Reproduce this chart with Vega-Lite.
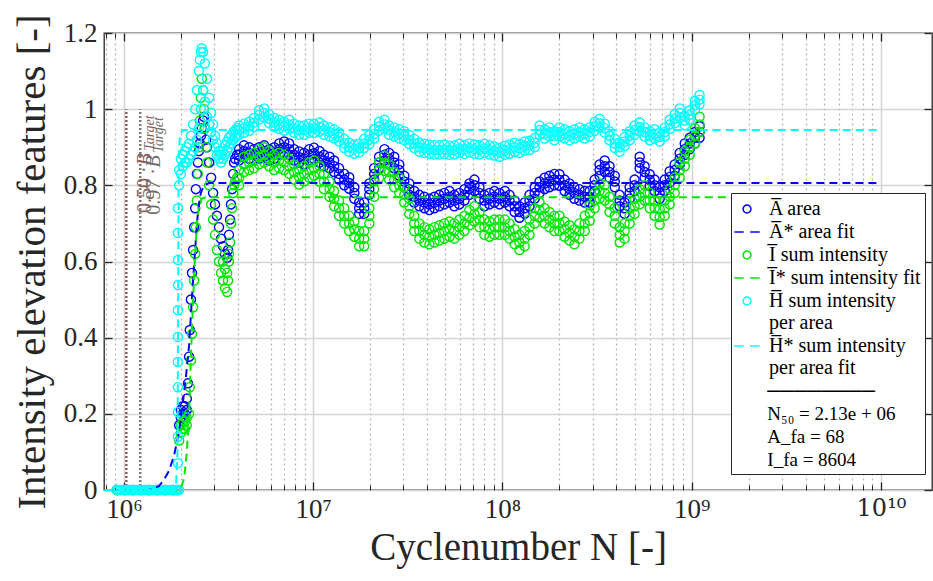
{
  "$schema": "https://vega.github.io/schema/vega-lite/v6.json",
  "width": 828,
  "height": 457,
  "autosize": "none",
  "padding": {"left": 104, "top": 33, "right": 1, "bottom": 91},
  "background": "white",
  "config": {
    "view": {"stroke": "#262626", "strokeWidth": 1.3},
    "font": "Liberation Serif"
  },
  "resolve": {"axis": {"x": "independent", "y": "independent"}},
  "datasets": {
    "t50": [{"N": 1.03e6}],
    "t97": [{"N": 1.22e6}],
    "fits": [
      {"s": "A*", "N": 7.9e5, "v": 0}, {"s": "A*", "N": 1.36e6, "v": 0}, {"s": "A*", "N": 1.53e6, "v": 0.01}, {"s": "A*", "N": 1.62e6, "v": 0.025}, {"s": "A*", "N": 1.73e6, "v": 0.05}, {"s": "A*", "N": 1.84e6, "v": 0.09}, {"s": "A*", "N": 1.95e6, "v": 0.15}, {"s": "A*", "N": 2.05e6, "v": 0.23}, {"s": "A*", "N": 2.13e6, "v": 0.3}, {"s": "A*", "N": 2.21e6, "v": 0.38}, {"s": "A*", "N": 2.26e6, "v": 0.46}, {"s": "A*", "N": 2.32e6, "v": 0.55}, {"s": "A*", "N": 2.38e6, "v": 0.63}, {"s": "A*", "N": 2.43e6, "v": 0.7}, {"s": "A*", "N": 2.49e6, "v": 0.75}, {"s": "A*", "N": 2.55e6, "v": 0.78}, {"s": "A*", "N": 2.65e6, "v": 0.8}, {"s": "A*", "N": 2.82e6, "v": 0.806}, {"s": "A*", "N": 1e10, "v": 0.806},
      {"s": "I*", "N": 7.9e5, "v": 0}, {"s": "I*", "N": 1.91e6, "v": 0}, {"s": "I*", "N": 2.0e6, "v": 0.005}, {"s": "I*", "N": 2.08e6, "v": 0.03}, {"s": "I*", "N": 2.15e6, "v": 0.1}, {"s": "I*", "N": 2.21e6, "v": 0.2}, {"s": "I*", "N": 2.26e6, "v": 0.35}, {"s": "I*", "N": 2.32e6, "v": 0.5}, {"s": "I*", "N": 2.38e6, "v": 0.62}, {"s": "I*", "N": 2.43e6, "v": 0.7}, {"s": "I*", "N": 2.49e6, "v": 0.74}, {"s": "I*", "N": 2.58e6, "v": 0.765}, {"s": "I*", "N": 2.72e6, "v": 0.769}, {"s": "I*", "N": 1e10, "v": 0.769},
      {"s": "H*", "N": 7.9e5, "v": 0}, {"s": "H*", "N": 1.88e6, "v": 0}, {"s": "H*", "N": 1.92e6, "v": 0.1}, {"s": "H*", "N": 1.935e6, "v": 0.5}, {"s": "H*", "N": 1.95e6, "v": 0.88}, {"s": "H*", "N": 1.98e6, "v": 0.935}, {"s": "H*", "N": 2.05e6, "v": 0.945}, {"s": "H*", "N": 1e10, "v": 0.945}
    ],
    "pts": [
      {"s": "A", "N": 9.18e5, "v": 0}, {"s": "A", "N": 1.012e6, "v": 0}, {"s": "A", "N": 1.116e6, "v": 0}, {"s": "A", "N": 1.231e6, "v": 0}, {"s": "A", "N": 1.357e6, "v": 0}, {"s": "A", "N": 1.496e6, "v": 0}, {"s": "A", "N": 1.65e6, "v": 0}, {"s": "A", "N": 1.82e6, "v": 0}, {"s": "A", "N": 1.911e6, "v": 0},
      {"s": "A", "N": 1.958e6, "v": 0.17}, {"s": "A", "N": 2.0e6, "v": 0.19}, {"s": "A", "N": 2.0e6, "v": 0.21}, {"s": "A", "N": 2.05e6, "v": 0.2}, {"s": "A", "N": 2.05e6, "v": 0.22}, {"s": "A", "N": 2.1e6, "v": 0.2}, {"s": "A", "N": 2.1e6, "v": 0.22}, {"s": "A", "N": 2.15e6, "v": 0.21}, {"s": "A", "N": 2.15e6, "v": 0.24},
      {"s": "A", "N": 2.18e6, "v": 0.28}, {"s": "A", "N": 2.21e6, "v": 0.35}, {"s": "A", "N": 2.23e6, "v": 0.42}, {"s": "A", "N": 2.26e6, "v": 0.5}, {"s": "A", "N": 2.29e6, "v": 0.57}, {"s": "A", "N": 2.32e6, "v": 0.63}, {"s": "A", "N": 2.35e6, "v": 0.69}, {"s": "A", "N": 2.38e6, "v": 0.74}, {"s": "A", "N": 2.4e6, "v": 0.79}, {"s": "A", "N": 2.43e6, "v": 0.83}, {"s": "A", "N": 2.46e6, "v": 0.86}, {"s": "A", "N": 2.49e6, "v": 0.89}, {"s": "A", "N": 2.52e6, "v": 0.91}, {"s": "A", "N": 2.55e6, "v": 0.93}, {"s": "A", "N": 2.58e6, "v": 0.95}, {"s": "A", "N": 2.62e6, "v": 0.97}, {"s": "A", "N": 2.65e6, "v": 0.98}, {"s": "A", "N": 2.68e6, "v": 0.95}, {"s": "A", "N": 2.72e6, "v": 0.92}, {"s": "A", "N": 2.75e6, "v": 0.9}, {"s": "A", "N": 2.82e6, "v": 0.86}, {"s": "A", "N": 2.89e6, "v": 0.82}, {"s": "A", "N": 2.96e6, "v": 0.78}, {"s": "A", "N": 3.03e6, "v": 0.75}, {"s": "A", "N": 3.1e6, "v": 0.72}, {"s": "A", "N": 3.18e6, "v": 0.69}, {"s": "A", "N": 3.26e6, "v": 0.66}, {"s": "A", "N": 3.34e6, "v": 0.64}, {"s": "A", "N": 3.42e6, "v": 0.62}, {"s": "A", "N": 3.51e6, "v": 0.61}, {"s": "A", "N": 3.55e6, "v": 0.63}, {"s": "A", "N": 3.59e6, "v": 0.67}, {"s": "A", "N": 3.64e6, "v": 0.71}, {"s": "A", "N": 3.68e6, "v": 0.75}, {"s": "A", "N": 3.73e6, "v": 0.79}, {"s": "A", "N": 3.78e6, "v": 0.83}, {"s": "A", "N": 3.82e6, "v": 0.86}, {"s": "A", "N": 3.87e6, "v": 0.87}, {"s": "A", "N": 3.96e6, "v": 0.88},
      {"s": "A", "N": 4.06e6, "v": 0.895}, {"s": "A", "N": 4.06e6, "v": 0.865}, {"s": "A", "N": 4.31e6, "v": 0.905}, {"s": "A", "N": 4.31e6, "v": 0.875}, {"s": "A", "N": 4.59e6, "v": 0.9}, {"s": "A", "N": 4.59e6, "v": 0.87}, {"s": "A", "N": 4.87e6, "v": 0.895}, {"s": "A", "N": 4.87e6, "v": 0.865}, {"s": "A", "N": 5.18e6, "v": 0.9}, {"s": "A", "N": 5.18e6, "v": 0.87}, {"s": "A", "N": 5.51e6, "v": 0.905}, {"s": "A", "N": 5.51e6, "v": 0.875}, {"s": "A", "N": 5.85e6, "v": 0.895}, {"s": "A", "N": 5.85e6, "v": 0.865}, {"s": "A", "N": 6.22e6, "v": 0.9}, {"s": "A", "N": 6.22e6, "v": 0.87}, {"s": "A", "N": 6.61e6, "v": 0.91}, {"s": "A", "N": 6.61e6, "v": 0.88}, {"s": "A", "N": 7.03e6, "v": 0.915}, {"s": "A", "N": 7.03e6, "v": 0.885}, {"s": "A", "N": 7.47e6, "v": 0.91}, {"s": "A", "N": 7.47e6, "v": 0.88}, {"s": "A", "N": 7.93e6, "v": 0.895}, {"s": "A", "N": 7.93e6, "v": 0.865}, {"s": "A", "N": 8.43e6, "v": 0.889}, {"s": "A", "N": 8.43e6, "v": 0.859}, {"s": "A", "N": 8.96e6, "v": 0.885}, {"s": "A", "N": 8.96e6, "v": 0.855}, {"s": "A", "N": 9.53e6, "v": 0.895}, {"s": "A", "N": 9.53e6, "v": 0.865}, {"s": "A", "N": 1.01e7, "v": 0.899}, {"s": "A", "N": 1.01e7, "v": 0.869}, {"s": "A", "N": 1.08e7, "v": 0.89}, {"s": "A", "N": 1.08e7, "v": 0.86}, {"s": "A", "N": 1.14e7, "v": 0.88}, {"s": "A", "N": 1.14e7, "v": 0.85}, {"s": "A", "N": 1.22e7, "v": 0.875}, {"s": "A", "N": 1.22e7, "v": 0.845}, {"s": "A", "N": 1.29e7, "v": 0.865}, {"s": "A", "N": 1.29e7, "v": 0.835}, {"s": "A", "N": 1.37e7, "v": 0.845}, {"s": "A", "N": 1.37e7, "v": 0.815}, {"s": "A", "N": 1.46e7, "v": 0.83}, {"s": "A", "N": 1.46e7, "v": 0.8}, {"s": "A", "N": 1.55e7, "v": 0.821}, {"s": "A", "N": 1.55e7, "v": 0.791}, {"s": "A", "N": 1.65e7, "v": 0.795}, {"s": "A", "N": 1.65e7, "v": 0.765}, {"s": "A", "N": 1.75e7, "v": 0.755}, {"s": "A", "N": 1.75e7, "v": 0.725}, {"s": "A", "N": 1.86e7, "v": 0.755}, {"s": "A", "N": 1.86e7, "v": 0.725}, {"s": "A", "N": 1.98e7, "v": 0.805}, {"s": "A", "N": 1.98e7, "v": 0.775}, {"s": "A", "N": 2.1e7, "v": 0.845}, {"s": "A", "N": 2.1e7, "v": 0.815}, {"s": "A", "N": 2.23e7, "v": 0.875}, {"s": "A", "N": 2.23e7, "v": 0.845}, {"s": "A", "N": 2.38e7, "v": 0.895}, {"s": "A", "N": 2.38e7, "v": 0.865}, {"s": "A", "N": 2.52e7, "v": 0.885}, {"s": "A", "N": 2.52e7, "v": 0.855}, {"s": "A", "N": 2.68e7, "v": 0.875}, {"s": "A", "N": 2.68e7, "v": 0.845}, {"s": "A", "N": 2.85e7, "v": 0.855}, {"s": "A", "N": 2.85e7, "v": 0.825}, {"s": "A", "N": 3.03e7, "v": 0.825}, {"s": "A", "N": 3.03e7, "v": 0.795}, {"s": "A", "N": 3.22e7, "v": 0.805}, {"s": "A", "N": 3.22e7, "v": 0.775}, {"s": "A", "N": 3.42e7, "v": 0.785}, {"s": "A", "N": 3.42e7, "v": 0.755}, {"s": "A", "N": 3.64e7, "v": 0.775}, {"s": "A", "N": 3.64e7, "v": 0.745}, {"s": "A", "N": 3.87e7, "v": 0.77}, {"s": "A", "N": 3.87e7, "v": 0.74}, {"s": "A", "N": 4.11e7, "v": 0.765}, {"s": "A", "N": 4.11e7, "v": 0.735}, {"s": "A", "N": 4.37e7, "v": 0.77}, {"s": "A", "N": 4.37e7, "v": 0.74}, {"s": "A", "N": 4.64e7, "v": 0.775}, {"s": "A", "N": 4.64e7, "v": 0.745}, {"s": "A", "N": 4.93e7, "v": 0.78}, {"s": "A", "N": 4.93e7, "v": 0.75}, {"s": "A", "N": 5.25e7, "v": 0.785}, {"s": "A", "N": 5.25e7, "v": 0.755}, {"s": "A", "N": 5.57e7, "v": 0.775}, {"s": "A", "N": 5.57e7, "v": 0.745}, {"s": "A", "N": 5.92e7, "v": 0.78}, {"s": "A", "N": 5.92e7, "v": 0.75}, {"s": "A", "N": 6.3e7, "v": 0.79}, {"s": "A", "N": 6.3e7, "v": 0.76}, {"s": "A", "N": 6.69e7, "v": 0.805}, {"s": "A", "N": 6.69e7, "v": 0.775}, {"s": "A", "N": 7.11e7, "v": 0.815}, {"s": "A", "N": 7.11e7, "v": 0.785}, {"s": "A", "N": 7.56e7, "v": 0.795}, {"s": "A", "N": 7.56e7, "v": 0.765}, {"s": "A", "N": 8.03e7, "v": 0.775}, {"s": "A", "N": 8.03e7, "v": 0.745}, {"s": "A", "N": 8.54e7, "v": 0.78}, {"s": "A", "N": 8.54e7, "v": 0.75}, {"s": "A", "N": 9.07e7, "v": 0.785}, {"s": "A", "N": 9.07e7, "v": 0.755}, {"s": "A", "N": 9.64e7, "v": 0.78}, {"s": "A", "N": 9.64e7, "v": 0.75}, {"s": "A", "N": 1.03e8, "v": 0.785}, {"s": "A", "N": 1.03e8, "v": 0.755}, {"s": "A", "N": 1.09e8, "v": 0.775}, {"s": "A", "N": 1.09e8, "v": 0.745}, {"s": "A", "N": 1.16e8, "v": 0.76}, {"s": "A", "N": 1.16e8, "v": 0.73}, {"s": "A", "N": 1.23e8, "v": 0.745}, {"s": "A", "N": 1.23e8, "v": 0.715}, {"s": "A", "N": 1.31e8, "v": 0.755}, {"s": "A", "N": 1.31e8, "v": 0.725}, {"s": "A", "N": 1.39e8, "v": 0.775}, {"s": "A", "N": 1.39e8, "v": 0.745}, {"s": "A", "N": 1.48e8, "v": 0.795}, {"s": "A", "N": 1.48e8, "v": 0.765}, {"s": "A", "N": 1.57e8, "v": 0.81}, {"s": "A", "N": 1.57e8, "v": 0.78}, {"s": "A", "N": 1.67e8, "v": 0.82}, {"s": "A", "N": 1.67e8, "v": 0.79}, {"s": "A", "N": 1.77e8, "v": 0.825}, {"s": "A", "N": 1.77e8, "v": 0.795}, {"s": "A", "N": 1.88e8, "v": 0.83}, {"s": "A", "N": 1.88e8, "v": 0.8}, {"s": "A", "N": 2.0e8, "v": 0.829}, {"s": "A", "N": 2.0e8, "v": 0.799}, {"s": "A", "N": 2.13e8, "v": 0.815}, {"s": "A", "N": 2.13e8, "v": 0.785}, {"s": "A", "N": 2.26e8, "v": 0.805}, {"s": "A", "N": 2.26e8, "v": 0.775}, {"s": "A", "N": 2.4e8, "v": 0.795}, {"s": "A", "N": 2.4e8, "v": 0.765}, {"s": "A", "N": 2.55e8, "v": 0.79}, {"s": "A", "N": 2.55e8, "v": 0.76}, {"s": "A", "N": 2.72e8, "v": 0.785}, {"s": "A", "N": 2.72e8, "v": 0.755}, {"s": "A", "N": 2.89e8, "v": 0.785}, {"s": "A", "N": 2.89e8, "v": 0.755}, {"s": "A", "N": 3.07e8, "v": 0.815}, {"s": "A", "N": 3.07e8, "v": 0.785}, {"s": "A", "N": 3.26e8, "v": 0.855}, {"s": "A", "N": 3.26e8, "v": 0.825}, {"s": "A", "N": 3.47e8, "v": 0.865}, {"s": "A", "N": 3.47e8, "v": 0.835}, {"s": "A", "N": 3.68e8, "v": 0.85}, {"s": "A", "N": 3.68e8, "v": 0.82}, {"s": "A", "N": 3.92e8, "v": 0.825}, {"s": "A", "N": 3.92e8, "v": 0.795}, {"s": "A", "N": 4.16e8, "v": 0.775}, {"s": "A", "N": 4.16e8, "v": 0.745}, {"s": "A", "N": 4.42e8, "v": 0.755}, {"s": "A", "N": 4.42e8, "v": 0.725}, {"s": "A", "N": 4.7e8, "v": 0.795}, {"s": "A", "N": 4.7e8, "v": 0.765}, {"s": "A", "N": 4.99e8, "v": 0.815}, {"s": "A", "N": 4.99e8, "v": 0.785}, {"s": "A", "N": 5.31e8, "v": 0.875}, {"s": "A", "N": 5.31e8, "v": 0.845}, {"s": "A", "N": 5.64e8, "v": 0.85}, {"s": "A", "N": 5.64e8, "v": 0.82}, {"s": "A", "N": 6.0e8, "v": 0.829}, {"s": "A", "N": 6.0e8, "v": 0.799}, {"s": "A", "N": 6.37e8, "v": 0.815}, {"s": "A", "N": 6.37e8, "v": 0.785}, {"s": "A", "N": 6.77e8, "v": 0.795}, {"s": "A", "N": 6.77e8, "v": 0.765}, {"s": "A", "N": 7.2e8, "v": 0.815}, {"s": "A", "N": 7.2e8, "v": 0.785}, {"s": "A", "N": 7.65e8, "v": 0.837}, {"s": "A", "N": 7.65e8, "v": 0.807}, {"s": "A", "N": 8.13e8, "v": 0.855}, {"s": "A", "N": 8.13e8, "v": 0.825}, {"s": "A", "N": 8.64e8, "v": 0.885}, {"s": "A", "N": 8.64e8, "v": 0.855}, {"s": "A", "N": 9.19e8, "v": 0.91}, {"s": "A", "N": 9.19e8, "v": 0.88}, {"s": "A", "N": 9.76e8, "v": 0.925}, {"s": "A", "N": 9.76e8, "v": 0.895}, {"s": "A", "N": 1.04e9, "v": 0.94}, {"s": "A", "N": 1.04e9, "v": 0.91}, {"s": "A", "N": 1.1e9, "v": 0.955}, {"s": "A", "N": 1.1e9, "v": 0.925},
      {"s": "A", "N": 4.06e6, "v": 0.88}, {"s": "A", "N": 4.31e6, "v": 0.89}, {"s": "A", "N": 4.59e6, "v": 0.885}, {"s": "A", "N": 4.87e6, "v": 0.88}, {"s": "A", "N": 5.18e6, "v": 0.885}, {"s": "A", "N": 5.51e6, "v": 0.89}, {"s": "A", "N": 5.85e6, "v": 0.88}, {"s": "A", "N": 6.22e6, "v": 0.885}, {"s": "A", "N": 6.61e6, "v": 0.895}, {"s": "A", "N": 7.03e6, "v": 0.9}, {"s": "A", "N": 7.47e6, "v": 0.895}, {"s": "A", "N": 7.93e6, "v": 0.88}, {"s": "A", "N": 8.43e6, "v": 0.874}, {"s": "A", "N": 8.96e6, "v": 0.87}, {"s": "A", "N": 9.53e6, "v": 0.88}, {"s": "A", "N": 1.01e7, "v": 0.884}, {"s": "A", "N": 1.08e7, "v": 0.875}, {"s": "A", "N": 1.14e7, "v": 0.865}, {"s": "A", "N": 1.22e7, "v": 0.86}, {"s": "A", "N": 1.29e7, "v": 0.85}, {"s": "A", "N": 1.37e7, "v": 0.83}, {"s": "A", "N": 1.46e7, "v": 0.815}, {"s": "A", "N": 1.55e7, "v": 0.806}, {"s": "A", "N": 1.65e7, "v": 0.78}, {"s": "A", "N": 1.75e7, "v": 0.74}, {"s": "A", "N": 1.86e7, "v": 0.74}, {"s": "A", "N": 1.98e7, "v": 0.79}, {"s": "A", "N": 2.1e7, "v": 0.83}, {"s": "A", "N": 2.23e7, "v": 0.86}, {"s": "A", "N": 2.38e7, "v": 0.88}, {"s": "A", "N": 2.52e7, "v": 0.87}, {"s": "A", "N": 2.68e7, "v": 0.86}, {"s": "A", "N": 2.85e7, "v": 0.84}, {"s": "A", "N": 3.03e7, "v": 0.81}, {"s": "A", "N": 3.22e7, "v": 0.79}, {"s": "A", "N": 3.42e7, "v": 0.77}, {"s": "A", "N": 3.64e7, "v": 0.76}, {"s": "A", "N": 3.87e7, "v": 0.755}, {"s": "A", "N": 4.11e7, "v": 0.75}, {"s": "A", "N": 4.37e7, "v": 0.755}, {"s": "A", "N": 4.64e7, "v": 0.76}, {"s": "A", "N": 4.93e7, "v": 0.765}, {"s": "A", "N": 5.25e7, "v": 0.77}, {"s": "A", "N": 5.57e7, "v": 0.76}, {"s": "A", "N": 5.92e7, "v": 0.765}, {"s": "A", "N": 6.3e7, "v": 0.775}, {"s": "A", "N": 6.69e7, "v": 0.79}, {"s": "A", "N": 7.11e7, "v": 0.8}, {"s": "A", "N": 7.56e7, "v": 0.78}, {"s": "A", "N": 8.03e7, "v": 0.76}, {"s": "A", "N": 8.54e7, "v": 0.765}, {"s": "A", "N": 9.07e7, "v": 0.77}, {"s": "A", "N": 9.64e7, "v": 0.765}, {"s": "A", "N": 1.03e8, "v": 0.77}, {"s": "A", "N": 1.09e8, "v": 0.76}, {"s": "A", "N": 1.16e8, "v": 0.745}, {"s": "A", "N": 1.23e8, "v": 0.73}, {"s": "A", "N": 1.31e8, "v": 0.74}, {"s": "A", "N": 1.39e8, "v": 0.76}, {"s": "A", "N": 1.48e8, "v": 0.78}, {"s": "A", "N": 1.57e8, "v": 0.795}, {"s": "A", "N": 1.67e8, "v": 0.805}, {"s": "A", "N": 1.77e8, "v": 0.81}, {"s": "A", "N": 1.88e8, "v": 0.815}, {"s": "A", "N": 2.0e8, "v": 0.814}, {"s": "A", "N": 2.13e8, "v": 0.8}, {"s": "A", "N": 2.26e8, "v": 0.79}, {"s": "A", "N": 2.4e8, "v": 0.78}, {"s": "A", "N": 2.55e8, "v": 0.775}, {"s": "A", "N": 2.72e8, "v": 0.77}, {"s": "A", "N": 2.89e8, "v": 0.77}, {"s": "A", "N": 3.07e8, "v": 0.8}, {"s": "A", "N": 3.26e8, "v": 0.84}, {"s": "A", "N": 3.47e8, "v": 0.85}, {"s": "A", "N": 3.68e8, "v": 0.835}, {"s": "A", "N": 3.92e8, "v": 0.81}, {"s": "A", "N": 4.16e8, "v": 0.76}, {"s": "A", "N": 4.42e8, "v": 0.74}, {"s": "A", "N": 4.7e8, "v": 0.78}, {"s": "A", "N": 4.99e8, "v": 0.8}, {"s": "A", "N": 5.31e8, "v": 0.86}, {"s": "A", "N": 5.64e8, "v": 0.835}, {"s": "A", "N": 6.0e8, "v": 0.814}, {"s": "A", "N": 6.37e8, "v": 0.8}, {"s": "A", "N": 6.77e8, "v": 0.78}, {"s": "A", "N": 7.2e8, "v": 0.8}, {"s": "A", "N": 7.65e8, "v": 0.822}, {"s": "A", "N": 8.13e8, "v": 0.84}, {"s": "A", "N": 8.64e8, "v": 0.87}, {"s": "A", "N": 9.19e8, "v": 0.895}, {"s": "A", "N": 9.76e8, "v": 0.91}, {"s": "A", "N": 1.04e9, "v": 0.925}, {"s": "A", "N": 1.1e9, "v": 0.94},

      {"s": "I", "N": 9.18e5, "v": 0}, {"s": "I", "N": 1.012e6, "v": 0}, {"s": "I", "N": 1.116e6, "v": 0}, {"s": "I", "N": 1.231e6, "v": 0}, {"s": "I", "N": 1.357e6, "v": 0}, {"s": "I", "N": 1.496e6, "v": 0}, {"s": "I", "N": 1.65e6, "v": 0}, {"s": "I", "N": 1.82e6, "v": 0}, {"s": "I", "N": 1.911e6, "v": 0},
      {"s": "I", "N": 1.958e6, "v": 0.13}, {"s": "I", "N": 2.0e6, "v": 0.15}, {"s": "I", "N": 2.0e6, "v": 0.17}, {"s": "I", "N": 2.05e6, "v": 0.16}, {"s": "I", "N": 2.05e6, "v": 0.18}, {"s": "I", "N": 2.1e6, "v": 0.16}, {"s": "I", "N": 2.1e6, "v": 0.18}, {"s": "I", "N": 2.15e6, "v": 0.17}, {"s": "I", "N": 2.15e6, "v": 0.19},
      {"s": "I", "N": 2.21e6, "v": 0.2}, {"s": "I", "N": 2.23e6, "v": 0.27}, {"s": "I", "N": 2.26e6, "v": 0.34}, {"s": "I", "N": 2.29e6, "v": 0.41}, {"s": "I", "N": 2.32e6, "v": 0.48}, {"s": "I", "N": 2.35e6, "v": 0.55}, {"s": "I", "N": 2.38e6, "v": 0.62}, {"s": "I", "N": 2.4e6, "v": 0.69}, {"s": "I", "N": 2.43e6, "v": 0.76}, {"s": "I", "N": 2.46e6, "v": 0.83}, {"s": "I", "N": 2.49e6, "v": 0.9}, {"s": "I", "N": 2.52e6, "v": 0.97}, {"s": "I", "N": 2.55e6, "v": 1.03}, {"s": "I", "N": 2.58e6, "v": 1.08}, {"s": "I", "N": 2.62e6, "v": 1.05}, {"s": "I", "N": 2.65e6, "v": 1.0}, {"s": "I", "N": 2.68e6, "v": 0.95}, {"s": "I", "N": 2.72e6, "v": 0.9}, {"s": "I", "N": 2.75e6, "v": 0.86}, {"s": "I", "N": 2.82e6, "v": 0.8}, {"s": "I", "N": 2.89e6, "v": 0.75}, {"s": "I", "N": 2.96e6, "v": 0.71}, {"s": "I", "N": 3.03e6, "v": 0.67}, {"s": "I", "N": 3.1e6, "v": 0.63}, {"s": "I", "N": 3.18e6, "v": 0.6}, {"s": "I", "N": 3.26e6, "v": 0.57}, {"s": "I", "N": 3.34e6, "v": 0.55}, {"s": "I", "N": 3.34e6, "v": 0.6}, {"s": "I", "N": 3.42e6, "v": 0.53}, {"s": "I", "N": 3.42e6, "v": 0.58}, {"s": "I", "N": 3.51e6, "v": 0.52}, {"s": "I", "N": 3.51e6, "v": 0.57}, {"s": "I", "N": 3.55e6, "v": 0.55}, {"s": "I", "N": 3.59e6, "v": 0.6}, {"s": "I", "N": 3.59e6, "v": 0.62}, {"s": "I", "N": 3.64e6, "v": 0.65}, {"s": "I", "N": 3.68e6, "v": 0.7}, {"s": "I", "N": 3.73e6, "v": 0.74}, {"s": "I", "N": 3.78e6, "v": 0.78}, {"s": "I", "N": 3.82e6, "v": 0.8}, {"s": "I", "N": 3.87e6, "v": 0.81}, {"s": "I", "N": 3.96e6, "v": 0.82},
      {"s": "I", "N": 4.06e6, "v": 0.84}, {"s": "I", "N": 4.06e6, "v": 0.8}, {"s": "I", "N": 4.31e6, "v": 0.875}, {"s": "I", "N": 4.31e6, "v": 0.835}, {"s": "I", "N": 4.59e6, "v": 0.88}, {"s": "I", "N": 4.59e6, "v": 0.84}, {"s": "I", "N": 4.87e6, "v": 0.885}, {"s": "I", "N": 4.87e6, "v": 0.845}, {"s": "I", "N": 5.18e6, "v": 0.895}, {"s": "I", "N": 5.18e6, "v": 0.855}, {"s": "I", "N": 5.51e6, "v": 0.9}, {"s": "I", "N": 5.51e6, "v": 0.86}, {"s": "I", "N": 5.85e6, "v": 0.89}, {"s": "I", "N": 5.85e6, "v": 0.85}, {"s": "I", "N": 6.22e6, "v": 0.88}, {"s": "I", "N": 6.22e6, "v": 0.84}, {"s": "I", "N": 6.61e6, "v": 0.885}, {"s": "I", "N": 6.61e6, "v": 0.845}, {"s": "I", "N": 7.03e6, "v": 0.88}, {"s": "I", "N": 7.03e6, "v": 0.84}, {"s": "I", "N": 7.47e6, "v": 0.87}, {"s": "I", "N": 7.47e6, "v": 0.83}, {"s": "I", "N": 7.93e6, "v": 0.855}, {"s": "I", "N": 7.93e6, "v": 0.815}, {"s": "I", "N": 8.43e6, "v": 0.842}, {"s": "I", "N": 8.43e6, "v": 0.802}, {"s": "I", "N": 8.96e6, "v": 0.85}, {"s": "I", "N": 8.96e6, "v": 0.81}, {"s": "I", "N": 9.53e6, "v": 0.86}, {"s": "I", "N": 9.53e6, "v": 0.82}, {"s": "I", "N": 1.01e7, "v": 0.865}, {"s": "I", "N": 1.01e7, "v": 0.825}, {"s": "I", "N": 1.08e7, "v": 0.85}, {"s": "I", "N": 1.08e7, "v": 0.81}, {"s": "I", "N": 1.14e7, "v": 0.83}, {"s": "I", "N": 1.14e7, "v": 0.79}, {"s": "I", "N": 1.22e7, "v": 0.81}, {"s": "I", "N": 1.22e7, "v": 0.77}, {"s": "I", "N": 1.29e7, "v": 0.785}, {"s": "I", "N": 1.29e7, "v": 0.745}, {"s": "I", "N": 1.37e7, "v": 0.76}, {"s": "I", "N": 1.37e7, "v": 0.72}, {"s": "I", "N": 1.46e7, "v": 0.74}, {"s": "I", "N": 1.46e7, "v": 0.7}, {"s": "I", "N": 1.55e7, "v": 0.72}, {"s": "I", "N": 1.55e7, "v": 0.68}, {"s": "I", "N": 1.65e7, "v": 0.705}, {"s": "I", "N": 1.65e7, "v": 0.665}, {"s": "I", "N": 1.75e7, "v": 0.68}, {"s": "I", "N": 1.75e7, "v": 0.64}, {"s": "I", "N": 1.86e7, "v": 0.68}, {"s": "I", "N": 1.86e7, "v": 0.64}, {"s": "I", "N": 1.98e7, "v": 0.74}, {"s": "I", "N": 1.98e7, "v": 0.7}, {"s": "I", "N": 2.1e7, "v": 0.81}, {"s": "I", "N": 2.1e7, "v": 0.77}, {"s": "I", "N": 2.23e7, "v": 0.86}, {"s": "I", "N": 2.23e7, "v": 0.82}, {"s": "I", "N": 2.38e7, "v": 0.878}, {"s": "I", "N": 2.38e7, "v": 0.838}, {"s": "I", "N": 2.52e7, "v": 0.855}, {"s": "I", "N": 2.52e7, "v": 0.815}, {"s": "I", "N": 2.68e7, "v": 0.835}, {"s": "I", "N": 2.68e7, "v": 0.795}, {"s": "I", "N": 2.85e7, "v": 0.82}, {"s": "I", "N": 2.85e7, "v": 0.78}, {"s": "I", "N": 3.03e7, "v": 0.795}, {"s": "I", "N": 3.03e7, "v": 0.755}, {"s": "I", "N": 3.22e7, "v": 0.765}, {"s": "I", "N": 3.22e7, "v": 0.725}, {"s": "I", "N": 3.42e7, "v": 0.72}, {"s": "I", "N": 3.42e7, "v": 0.68}, {"s": "I", "N": 3.64e7, "v": 0.7}, {"s": "I", "N": 3.64e7, "v": 0.66}, {"s": "I", "N": 3.87e7, "v": 0.69}, {"s": "I", "N": 3.87e7, "v": 0.65}, {"s": "I", "N": 4.11e7, "v": 0.685}, {"s": "I", "N": 4.11e7, "v": 0.645}, {"s": "I", "N": 4.37e7, "v": 0.69}, {"s": "I", "N": 4.37e7, "v": 0.65}, {"s": "I", "N": 4.64e7, "v": 0.695}, {"s": "I", "N": 4.64e7, "v": 0.655}, {"s": "I", "N": 4.93e7, "v": 0.7}, {"s": "I", "N": 4.93e7, "v": 0.66}, {"s": "I", "N": 5.25e7, "v": 0.705}, {"s": "I", "N": 5.25e7, "v": 0.665}, {"s": "I", "N": 5.57e7, "v": 0.7}, {"s": "I", "N": 5.57e7, "v": 0.66}, {"s": "I", "N": 5.92e7, "v": 0.71}, {"s": "I", "N": 5.92e7, "v": 0.67}, {"s": "I", "N": 6.3e7, "v": 0.72}, {"s": "I", "N": 6.3e7, "v": 0.68}, {"s": "I", "N": 6.69e7, "v": 0.735}, {"s": "I", "N": 6.69e7, "v": 0.695}, {"s": "I", "N": 7.11e7, "v": 0.745}, {"s": "I", "N": 7.11e7, "v": 0.705}, {"s": "I", "N": 7.56e7, "v": 0.73}, {"s": "I", "N": 7.56e7, "v": 0.69}, {"s": "I", "N": 8.03e7, "v": 0.71}, {"s": "I", "N": 8.03e7, "v": 0.67}, {"s": "I", "N": 8.54e7, "v": 0.705}, {"s": "I", "N": 8.54e7, "v": 0.665}, {"s": "I", "N": 9.07e7, "v": 0.71}, {"s": "I", "N": 9.07e7, "v": 0.67}, {"s": "I", "N": 9.64e7, "v": 0.71}, {"s": "I", "N": 9.64e7, "v": 0.67}, {"s": "I", "N": 1.03e8, "v": 0.71}, {"s": "I", "N": 1.03e8, "v": 0.67}, {"s": "I", "N": 1.09e8, "v": 0.7}, {"s": "I", "N": 1.09e8, "v": 0.66}, {"s": "I", "N": 1.16e8, "v": 0.685}, {"s": "I", "N": 1.16e8, "v": 0.645}, {"s": "I", "N": 1.23e8, "v": 0.67}, {"s": "I", "N": 1.23e8, "v": 0.63}, {"s": "I", "N": 1.31e8, "v": 0.68}, {"s": "I", "N": 1.31e8, "v": 0.64}, {"s": "I", "N": 1.39e8, "v": 0.71}, {"s": "I", "N": 1.39e8, "v": 0.67}, {"s": "I", "N": 1.48e8, "v": 0.74}, {"s": "I", "N": 1.48e8, "v": 0.7}, {"s": "I", "N": 1.57e8, "v": 0.755}, {"s": "I", "N": 1.57e8, "v": 0.715}, {"s": "I", "N": 1.67e8, "v": 0.74}, {"s": "I", "N": 1.67e8, "v": 0.7}, {"s": "I", "N": 1.77e8, "v": 0.73}, {"s": "I", "N": 1.77e8, "v": 0.69}, {"s": "I", "N": 1.88e8, "v": 0.72}, {"s": "I", "N": 1.88e8, "v": 0.68}, {"s": "I", "N": 2.0e8, "v": 0.72}, {"s": "I", "N": 2.0e8, "v": 0.68}, {"s": "I", "N": 2.13e8, "v": 0.705}, {"s": "I", "N": 2.13e8, "v": 0.665}, {"s": "I", "N": 2.26e8, "v": 0.695}, {"s": "I", "N": 2.26e8, "v": 0.655}, {"s": "I", "N": 2.4e8, "v": 0.685}, {"s": "I", "N": 2.4e8, "v": 0.645}, {"s": "I", "N": 2.55e8, "v": 0.7}, {"s": "I", "N": 2.55e8, "v": 0.66}, {"s": "I", "N": 2.72e8, "v": 0.72}, {"s": "I", "N": 2.72e8, "v": 0.68}, {"s": "I", "N": 2.89e8, "v": 0.747}, {"s": "I", "N": 2.89e8, "v": 0.707}, {"s": "I", "N": 3.07e8, "v": 0.78}, {"s": "I", "N": 3.07e8, "v": 0.74}, {"s": "I", "N": 3.26e8, "v": 0.805}, {"s": "I", "N": 3.26e8, "v": 0.765}, {"s": "I", "N": 3.47e8, "v": 0.8}, {"s": "I", "N": 3.47e8, "v": 0.76}, {"s": "I", "N": 3.68e8, "v": 0.77}, {"s": "I", "N": 3.68e8, "v": 0.73}, {"s": "I", "N": 3.92e8, "v": 0.74}, {"s": "I", "N": 3.92e8, "v": 0.7}, {"s": "I", "N": 4.16e8, "v": 0.69}, {"s": "I", "N": 4.16e8, "v": 0.65}, {"s": "I", "N": 4.42e8, "v": 0.7}, {"s": "I", "N": 4.42e8, "v": 0.66}, {"s": "I", "N": 4.7e8, "v": 0.74}, {"s": "I", "N": 4.7e8, "v": 0.7}, {"s": "I", "N": 4.99e8, "v": 0.765}, {"s": "I", "N": 4.99e8, "v": 0.725}, {"s": "I", "N": 5.31e8, "v": 0.79}, {"s": "I", "N": 5.31e8, "v": 0.75}, {"s": "I", "N": 5.64e8, "v": 0.8}, {"s": "I", "N": 5.64e8, "v": 0.76}, {"s": "I", "N": 6.0e8, "v": 0.78}, {"s": "I", "N": 6.0e8, "v": 0.74}, {"s": "I", "N": 6.37e8, "v": 0.76}, {"s": "I", "N": 6.37e8, "v": 0.72}, {"s": "I", "N": 6.77e8, "v": 0.737}, {"s": "I", "N": 6.77e8, "v": 0.697}, {"s": "I", "N": 7.2e8, "v": 0.76}, {"s": "I", "N": 7.2e8, "v": 0.72}, {"s": "I", "N": 7.65e8, "v": 0.79}, {"s": "I", "N": 7.65e8, "v": 0.75}, {"s": "I", "N": 8.13e8, "v": 0.82}, {"s": "I", "N": 8.13e8, "v": 0.78}, {"s": "I", "N": 8.64e8, "v": 0.86}, {"s": "I", "N": 8.64e8, "v": 0.82}, {"s": "I", "N": 9.19e8, "v": 0.89}, {"s": "I", "N": 9.19e8, "v": 0.85}, {"s": "I", "N": 9.76e8, "v": 0.92}, {"s": "I", "N": 9.76e8, "v": 0.88}, {"s": "I", "N": 1.04e9, "v": 0.95}, {"s": "I", "N": 1.04e9, "v": 0.91}, {"s": "I", "N": 1.1e9, "v": 0.98}, {"s": "I", "N": 1.1e9, "v": 0.94},
      {"s": "I", "N": 4.06e6, "v": 0.82}, {"s": "I", "N": 4.31e6, "v": 0.855}, {"s": "I", "N": 4.59e6, "v": 0.86}, {"s": "I", "N": 4.87e6, "v": 0.865}, {"s": "I", "N": 5.18e6, "v": 0.875}, {"s": "I", "N": 5.51e6, "v": 0.88}, {"s": "I", "N": 5.85e6, "v": 0.87}, {"s": "I", "N": 6.22e6, "v": 0.86}, {"s": "I", "N": 6.61e6, "v": 0.865}, {"s": "I", "N": 7.03e6, "v": 0.86}, {"s": "I", "N": 7.47e6, "v": 0.85}, {"s": "I", "N": 7.93e6, "v": 0.835}, {"s": "I", "N": 8.43e6, "v": 0.822}, {"s": "I", "N": 8.96e6, "v": 0.83}, {"s": "I", "N": 9.53e6, "v": 0.84}, {"s": "I", "N": 1.01e7, "v": 0.845}, {"s": "I", "N": 1.08e7, "v": 0.83}, {"s": "I", "N": 1.14e7, "v": 0.81}, {"s": "I", "N": 1.22e7, "v": 0.79}, {"s": "I", "N": 1.29e7, "v": 0.765}, {"s": "I", "N": 1.37e7, "v": 0.74}, {"s": "I", "N": 1.46e7, "v": 0.72}, {"s": "I", "N": 1.55e7, "v": 0.7}, {"s": "I", "N": 1.65e7, "v": 0.685}, {"s": "I", "N": 1.75e7, "v": 0.66}, {"s": "I", "N": 1.86e7, "v": 0.66}, {"s": "I", "N": 1.98e7, "v": 0.72}, {"s": "I", "N": 2.1e7, "v": 0.79}, {"s": "I", "N": 2.23e7, "v": 0.84}, {"s": "I", "N": 2.38e7, "v": 0.858}, {"s": "I", "N": 2.52e7, "v": 0.835}, {"s": "I", "N": 2.68e7, "v": 0.815}, {"s": "I", "N": 2.85e7, "v": 0.8}, {"s": "I", "N": 3.03e7, "v": 0.775}, {"s": "I", "N": 3.22e7, "v": 0.745}, {"s": "I", "N": 3.42e7, "v": 0.7}, {"s": "I", "N": 3.64e7, "v": 0.68}, {"s": "I", "N": 3.87e7, "v": 0.67}, {"s": "I", "N": 4.11e7, "v": 0.665}, {"s": "I", "N": 4.37e7, "v": 0.67}, {"s": "I", "N": 4.64e7, "v": 0.675}, {"s": "I", "N": 4.93e7, "v": 0.68}, {"s": "I", "N": 5.25e7, "v": 0.685}, {"s": "I", "N": 5.57e7, "v": 0.68}, {"s": "I", "N": 5.92e7, "v": 0.69}, {"s": "I", "N": 6.3e7, "v": 0.7}, {"s": "I", "N": 6.69e7, "v": 0.715}, {"s": "I", "N": 7.11e7, "v": 0.725}, {"s": "I", "N": 7.56e7, "v": 0.71}, {"s": "I", "N": 8.03e7, "v": 0.69}, {"s": "I", "N": 8.54e7, "v": 0.685}, {"s": "I", "N": 9.07e7, "v": 0.69}, {"s": "I", "N": 9.64e7, "v": 0.69}, {"s": "I", "N": 1.03e8, "v": 0.69}, {"s": "I", "N": 1.09e8, "v": 0.68}, {"s": "I", "N": 1.16e8, "v": 0.665}, {"s": "I", "N": 1.23e8, "v": 0.65}, {"s": "I", "N": 1.31e8, "v": 0.66}, {"s": "I", "N": 1.39e8, "v": 0.69}, {"s": "I", "N": 1.48e8, "v": 0.72}, {"s": "I", "N": 1.57e8, "v": 0.735}, {"s": "I", "N": 1.67e8, "v": 0.72}, {"s": "I", "N": 1.77e8, "v": 0.71}, {"s": "I", "N": 1.88e8, "v": 0.7}, {"s": "I", "N": 2.0e8, "v": 0.7}, {"s": "I", "N": 2.13e8, "v": 0.685}, {"s": "I", "N": 2.26e8, "v": 0.675}, {"s": "I", "N": 2.4e8, "v": 0.665}, {"s": "I", "N": 2.55e8, "v": 0.68}, {"s": "I", "N": 2.72e8, "v": 0.7}, {"s": "I", "N": 2.89e8, "v": 0.727}, {"s": "I", "N": 3.07e8, "v": 0.76}, {"s": "I", "N": 3.26e8, "v": 0.785}, {"s": "I", "N": 3.47e8, "v": 0.78}, {"s": "I", "N": 3.68e8, "v": 0.75}, {"s": "I", "N": 3.92e8, "v": 0.72}, {"s": "I", "N": 4.16e8, "v": 0.67}, {"s": "I", "N": 4.42e8, "v": 0.68}, {"s": "I", "N": 4.7e8, "v": 0.72}, {"s": "I", "N": 4.99e8, "v": 0.745}, {"s": "I", "N": 5.31e8, "v": 0.77}, {"s": "I", "N": 5.64e8, "v": 0.78}, {"s": "I", "N": 6.0e8, "v": 0.76}, {"s": "I", "N": 6.37e8, "v": 0.74}, {"s": "I", "N": 6.77e8, "v": 0.717}, {"s": "I", "N": 7.2e8, "v": 0.74}, {"s": "I", "N": 7.65e8, "v": 0.77}, {"s": "I", "N": 8.13e8, "v": 0.8}, {"s": "I", "N": 8.64e8, "v": 0.84}, {"s": "I", "N": 9.19e8, "v": 0.87}, {"s": "I", "N": 9.76e8, "v": 0.9}, {"s": "I", "N": 1.04e9, "v": 0.93}, {"s": "I", "N": 1.1e9, "v": 0.96},

      {"s": "H", "N": 9.18e5, "v": 0}, {"s": "H", "N": 9.41e5, "v": 0}, {"s": "H", "N": 9.64e5, "v": 0}, {"s": "H", "N": 9.88e5, "v": 0}, {"s": "H", "N": 1.012e6, "v": 0}, {"s": "H", "N": 1.037e6, "v": 0}, {"s": "H", "N": 1.063e6, "v": 0}, {"s": "H", "N": 1.089e6, "v": 0}, {"s": "H", "N": 1.116e6, "v": 0}, {"s": "H", "N": 1.144e6, "v": 0}, {"s": "H", "N": 1.172e6, "v": 0}, {"s": "H", "N": 1.201e6, "v": 0}, {"s": "H", "N": 1.231e6, "v": 0}, {"s": "H", "N": 1.261e6, "v": 0}, {"s": "H", "N": 1.292e6, "v": 0}, {"s": "H", "N": 1.324e6, "v": 0}, {"s": "H", "N": 1.357e6, "v": 0}, {"s": "H", "N": 1.391e6, "v": 0}, {"s": "H", "N": 1.425e6, "v": 0}, {"s": "H", "N": 1.46e6, "v": 0}, {"s": "H", "N": 1.496e6, "v": 0}, {"s": "H", "N": 1.533e6, "v": 0}, {"s": "H", "N": 1.571e6, "v": 0}, {"s": "H", "N": 1.61e6, "v": 0}, {"s": "H", "N": 1.65e6, "v": 0}, {"s": "H", "N": 1.691e6, "v": 0}, {"s": "H", "N": 1.733e6, "v": 0}, {"s": "H", "N": 1.776e6, "v": 0}, {"s": "H", "N": 1.82e6, "v": 0}, {"s": "H", "N": 1.865e6, "v": 0}, {"s": "H", "N": 1.911e6, "v": 0}, {"s": "H", "N": 1.958e6, "v": 0},
      {"s": "H", "N": 1.93e6, "v": 0.07}, {"s": "H", "N": 1.93e6, "v": 0.14}, {"s": "H", "N": 1.93e6, "v": 0.205}, {"s": "H", "N": 1.93e6, "v": 0.27}, {"s": "H", "N": 1.93e6, "v": 0.336}, {"s": "H", "N": 1.93e6, "v": 0.402}, {"s": "H", "N": 1.93e6, "v": 0.472}, {"s": "H", "N": 1.93e6, "v": 0.538}, {"s": "H", "N": 1.93e6, "v": 0.604}, {"s": "H", "N": 1.93e6, "v": 0.675}, {"s": "H", "N": 1.93e6, "v": 0.74},
      {"s": "H", "N": 1.958e6, "v": 0.8}, {"s": "H", "N": 1.958e6, "v": 0.84}, {"s": "H", "N": 2.0e6, "v": 0.83}, {"s": "H", "N": 2.0e6, "v": 0.87}, {"s": "H", "N": 2.05e6, "v": 0.85}, {"s": "H", "N": 2.05e6, "v": 0.88}, {"s": "H", "N": 2.1e6, "v": 0.86}, {"s": "H", "N": 2.1e6, "v": 0.89}, {"s": "H", "N": 2.15e6, "v": 0.86}, {"s": "H", "N": 2.15e6, "v": 0.9}, {"s": "H", "N": 2.21e6, "v": 0.87}, {"s": "H", "N": 2.21e6, "v": 0.91}, {"s": "H", "N": 2.26e6, "v": 0.88}, {"s": "H", "N": 2.26e6, "v": 0.93}, {"s": "H", "N": 2.32e6, "v": 0.89}, {"s": "H", "N": 2.32e6, "v": 0.96}, {"s": "H", "N": 2.38e6, "v": 0.9}, {"s": "H", "N": 2.38e6, "v": 1.0}, {"s": "H", "N": 2.43e6, "v": 0.92}, {"s": "H", "N": 2.43e6, "v": 1.05}, {"s": "H", "N": 2.49e6, "v": 0.95}, {"s": "H", "N": 2.49e6, "v": 1.1}, {"s": "H", "N": 2.52e6, "v": 1.13}, {"s": "H", "N": 2.55e6, "v": 1.0}, {"s": "H", "N": 2.55e6, "v": 1.15}, {"s": "H", "N": 2.58e6, "v": 1.16}, {"s": "H", "N": 2.62e6, "v": 1.05}, {"s": "H", "N": 2.62e6, "v": 1.15}, {"s": "H", "N": 2.68e6, "v": 1.02}, {"s": "H", "N": 2.68e6, "v": 1.12}, {"s": "H", "N": 2.75e6, "v": 0.98}, {"s": "H", "N": 2.75e6, "v": 1.08}, {"s": "H", "N": 2.82e6, "v": 0.96}, {"s": "H", "N": 2.82e6, "v": 1.03}, {"s": "H", "N": 2.89e6, "v": 0.94}, {"s": "H", "N": 2.89e6, "v": 0.99}, {"s": "H", "N": 2.96e6, "v": 0.92}, {"s": "H", "N": 2.96e6, "v": 0.96}, {"s": "H", "N": 3.03e6, "v": 0.9}, {"s": "H", "N": 3.03e6, "v": 0.93}, {"s": "H", "N": 3.1e6, "v": 0.88}, {"s": "H", "N": 3.1e6, "v": 0.91}, {"s": "H", "N": 3.18e6, "v": 0.87}, {"s": "H", "N": 3.18e6, "v": 0.89}, {"s": "H", "N": 3.26e6, "v": 0.86}, {"s": "H", "N": 3.26e6, "v": 0.88}, {"s": "H", "N": 3.34e6, "v": 0.87}, {"s": "H", "N": 3.34e6, "v": 0.89}, {"s": "H", "N": 3.42e6, "v": 0.88}, {"s": "H", "N": 3.42e6, "v": 0.905}, {"s": "H", "N": 3.51e6, "v": 0.89}, {"s": "H", "N": 3.51e6, "v": 0.915}, {"s": "H", "N": 3.59e6, "v": 0.9}, {"s": "H", "N": 3.59e6, "v": 0.925}, {"s": "H", "N": 3.68e6, "v": 0.91}, {"s": "H", "N": 3.68e6, "v": 0.93}, {"s": "H", "N": 3.78e6, "v": 0.92}, {"s": "H", "N": 3.78e6, "v": 0.94}, {"s": "H", "N": 3.87e6, "v": 0.925}, {"s": "H", "N": 3.87e6, "v": 0.945}, {"s": "H", "N": 3.96e6, "v": 0.93}, {"s": "H", "N": 3.96e6, "v": 0.95},
      {"s": "H", "N": 4.06e6, "v": 0.957}, {"s": "H", "N": 4.06e6, "v": 0.933}, {"s": "H", "N": 4.31e6, "v": 0.962}, {"s": "H", "N": 4.31e6, "v": 0.938}, {"s": "H", "N": 4.59e6, "v": 0.967}, {"s": "H", "N": 4.59e6, "v": 0.943}, {"s": "H", "N": 4.87e6, "v": 0.977}, {"s": "H", "N": 4.87e6, "v": 0.953}, {"s": "H", "N": 5.18e6, "v": 0.997}, {"s": "H", "N": 5.18e6, "v": 0.973}, {"s": "H", "N": 5.51e6, "v": 1.002}, {"s": "H", "N": 5.51e6, "v": 0.978}, {"s": "H", "N": 5.85e6, "v": 0.987}, {"s": "H", "N": 5.85e6, "v": 0.963}, {"s": "H", "N": 6.22e6, "v": 0.977}, {"s": "H", "N": 6.22e6, "v": 0.953}, {"s": "H", "N": 6.61e6, "v": 0.972}, {"s": "H", "N": 6.61e6, "v": 0.948}, {"s": "H", "N": 7.03e6, "v": 0.967}, {"s": "H", "N": 7.03e6, "v": 0.943}, {"s": "H", "N": 7.47e6, "v": 0.972}, {"s": "H", "N": 7.47e6, "v": 0.948}, {"s": "H", "N": 7.93e6, "v": 0.962}, {"s": "H", "N": 7.93e6, "v": 0.938}, {"s": "H", "N": 8.43e6, "v": 0.957}, {"s": "H", "N": 8.43e6, "v": 0.933}, {"s": "H", "N": 8.96e6, "v": 0.957}, {"s": "H", "N": 8.96e6, "v": 0.933}, {"s": "H", "N": 9.53e6, "v": 0.962}, {"s": "H", "N": 9.53e6, "v": 0.938}, {"s": "H", "N": 1.01e7, "v": 0.962}, {"s": "H", "N": 1.01e7, "v": 0.938}, {"s": "H", "N": 1.08e7, "v": 0.965}, {"s": "H", "N": 1.08e7, "v": 0.941}, {"s": "H", "N": 1.14e7, "v": 0.957}, {"s": "H", "N": 1.14e7, "v": 0.933}, {"s": "H", "N": 1.22e7, "v": 0.952}, {"s": "H", "N": 1.22e7, "v": 0.928}, {"s": "H", "N": 1.29e7, "v": 0.947}, {"s": "H", "N": 1.29e7, "v": 0.923}, {"s": "H", "N": 1.37e7, "v": 0.939}, {"s": "H", "N": 1.37e7, "v": 0.915}, {"s": "H", "N": 1.46e7, "v": 0.922}, {"s": "H", "N": 1.46e7, "v": 0.898}, {"s": "H", "N": 1.55e7, "v": 0.912}, {"s": "H", "N": 1.55e7, "v": 0.888}, {"s": "H", "N": 1.65e7, "v": 0.907}, {"s": "H", "N": 1.65e7, "v": 0.883}, {"s": "H", "N": 1.75e7, "v": 0.91}, {"s": "H", "N": 1.75e7, "v": 0.886}, {"s": "H", "N": 1.86e7, "v": 0.922}, {"s": "H", "N": 1.86e7, "v": 0.898}, {"s": "H", "N": 1.98e7, "v": 0.932}, {"s": "H", "N": 1.98e7, "v": 0.908}, {"s": "H", "N": 2.1e7, "v": 0.947}, {"s": "H", "N": 2.1e7, "v": 0.923}, {"s": "H", "N": 2.23e7, "v": 0.967}, {"s": "H", "N": 2.23e7, "v": 0.943}, {"s": "H", "N": 2.38e7, "v": 0.972}, {"s": "H", "N": 2.38e7, "v": 0.948}, {"s": "H", "N": 2.52e7, "v": 0.957}, {"s": "H", "N": 2.52e7, "v": 0.933}, {"s": "H", "N": 2.68e7, "v": 0.952}, {"s": "H", "N": 2.68e7, "v": 0.928}, {"s": "H", "N": 2.85e7, "v": 0.947}, {"s": "H", "N": 2.85e7, "v": 0.923}, {"s": "H", "N": 3.03e7, "v": 0.942}, {"s": "H", "N": 3.03e7, "v": 0.918}, {"s": "H", "N": 3.22e7, "v": 0.932}, {"s": "H", "N": 3.22e7, "v": 0.908}, {"s": "H", "N": 3.42e7, "v": 0.922}, {"s": "H", "N": 3.42e7, "v": 0.898}, {"s": "H", "N": 3.64e7, "v": 0.912}, {"s": "H", "N": 3.64e7, "v": 0.888}, {"s": "H", "N": 3.87e7, "v": 0.909}, {"s": "H", "N": 3.87e7, "v": 0.885}, {"s": "H", "N": 4.11e7, "v": 0.907}, {"s": "H", "N": 4.11e7, "v": 0.883}, {"s": "H", "N": 4.37e7, "v": 0.905}, {"s": "H", "N": 4.37e7, "v": 0.881}, {"s": "H", "N": 4.64e7, "v": 0.905}, {"s": "H", "N": 4.64e7, "v": 0.881}, {"s": "H", "N": 4.93e7, "v": 0.907}, {"s": "H", "N": 4.93e7, "v": 0.883}, {"s": "H", "N": 5.25e7, "v": 0.904}, {"s": "H", "N": 5.25e7, "v": 0.88}, {"s": "H", "N": 5.57e7, "v": 0.905}, {"s": "H", "N": 5.57e7, "v": 0.881}, {"s": "H", "N": 5.92e7, "v": 0.909}, {"s": "H", "N": 5.92e7, "v": 0.885}, {"s": "H", "N": 6.3e7, "v": 0.906}, {"s": "H", "N": 6.3e7, "v": 0.882}, {"s": "H", "N": 6.69e7, "v": 0.91}, {"s": "H", "N": 6.69e7, "v": 0.886}, {"s": "H", "N": 7.11e7, "v": 0.907}, {"s": "H", "N": 7.11e7, "v": 0.883}, {"s": "H", "N": 7.56e7, "v": 0.905}, {"s": "H", "N": 7.56e7, "v": 0.881}, {"s": "H", "N": 8.03e7, "v": 0.909}, {"s": "H", "N": 8.03e7, "v": 0.885}, {"s": "H", "N": 8.54e7, "v": 0.905}, {"s": "H", "N": 8.54e7, "v": 0.881}, {"s": "H", "N": 9.07e7, "v": 0.902}, {"s": "H", "N": 9.07e7, "v": 0.878}, {"s": "H", "N": 9.64e7, "v": 0.899}, {"s": "H", "N": 9.64e7, "v": 0.875}, {"s": "H", "N": 1.03e8, "v": 0.904}, {"s": "H", "N": 1.03e8, "v": 0.88}, {"s": "H", "N": 1.09e8, "v": 0.907}, {"s": "H", "N": 1.09e8, "v": 0.883}, {"s": "H", "N": 1.16e8, "v": 0.912}, {"s": "H", "N": 1.16e8, "v": 0.888}, {"s": "H", "N": 1.23e8, "v": 0.909}, {"s": "H", "N": 1.23e8, "v": 0.885}, {"s": "H", "N": 1.31e8, "v": 0.915}, {"s": "H", "N": 1.31e8, "v": 0.891}, {"s": "H", "N": 1.39e8, "v": 0.917}, {"s": "H", "N": 1.39e8, "v": 0.893}, {"s": "H", "N": 1.48e8, "v": 0.924}, {"s": "H", "N": 1.48e8, "v": 0.9}, {"s": "H", "N": 1.57e8, "v": 0.957}, {"s": "H", "N": 1.57e8, "v": 0.933}, {"s": "H", "N": 1.67e8, "v": 0.947}, {"s": "H", "N": 1.67e8, "v": 0.923}, {"s": "H", "N": 1.77e8, "v": 0.952}, {"s": "H", "N": 1.77e8, "v": 0.928}, {"s": "H", "N": 1.88e8, "v": 0.942}, {"s": "H", "N": 1.88e8, "v": 0.918}, {"s": "H", "N": 2.0e8, "v": 0.952}, {"s": "H", "N": 2.0e8, "v": 0.928}, {"s": "H", "N": 2.13e8, "v": 0.947}, {"s": "H", "N": 2.13e8, "v": 0.923}, {"s": "H", "N": 2.26e8, "v": 0.942}, {"s": "H", "N": 2.26e8, "v": 0.918}, {"s": "H", "N": 2.4e8, "v": 0.947}, {"s": "H", "N": 2.4e8, "v": 0.923}, {"s": "H", "N": 2.55e8, "v": 0.952}, {"s": "H", "N": 2.55e8, "v": 0.928}, {"s": "H", "N": 2.72e8, "v": 0.947}, {"s": "H", "N": 2.72e8, "v": 0.923}, {"s": "H", "N": 2.89e8, "v": 0.952}, {"s": "H", "N": 2.89e8, "v": 0.928}, {"s": "H", "N": 3.07e8, "v": 0.967}, {"s": "H", "N": 3.07e8, "v": 0.943}, {"s": "H", "N": 3.26e8, "v": 0.975}, {"s": "H", "N": 3.26e8, "v": 0.951}, {"s": "H", "N": 3.47e8, "v": 0.962}, {"s": "H", "N": 3.47e8, "v": 0.938}, {"s": "H", "N": 3.68e8, "v": 0.942}, {"s": "H", "N": 3.68e8, "v": 0.918}, {"s": "H", "N": 3.92e8, "v": 0.922}, {"s": "H", "N": 3.92e8, "v": 0.898}, {"s": "H", "N": 4.16e8, "v": 0.912}, {"s": "H", "N": 4.16e8, "v": 0.888}, {"s": "H", "N": 4.42e8, "v": 0.927}, {"s": "H", "N": 4.42e8, "v": 0.903}, {"s": "H", "N": 4.7e8, "v": 0.942}, {"s": "H", "N": 4.7e8, "v": 0.918}, {"s": "H", "N": 4.99e8, "v": 0.957}, {"s": "H", "N": 4.99e8, "v": 0.933}, {"s": "H", "N": 5.31e8, "v": 0.965}, {"s": "H", "N": 5.31e8, "v": 0.941}, {"s": "H", "N": 5.64e8, "v": 0.952}, {"s": "H", "N": 5.64e8, "v": 0.928}, {"s": "H", "N": 6.0e8, "v": 0.942}, {"s": "H", "N": 6.0e8, "v": 0.918}, {"s": "H", "N": 6.37e8, "v": 0.947}, {"s": "H", "N": 6.37e8, "v": 0.923}, {"s": "H", "N": 6.77e8, "v": 0.939}, {"s": "H", "N": 6.77e8, "v": 0.915}, {"s": "H", "N": 7.2e8, "v": 0.952}, {"s": "H", "N": 7.2e8, "v": 0.928}, {"s": "H", "N": 7.65e8, "v": 0.972}, {"s": "H", "N": 7.65e8, "v": 0.948}, {"s": "H", "N": 8.13e8, "v": 0.987}, {"s": "H", "N": 8.13e8, "v": 0.963}, {"s": "H", "N": 8.64e8, "v": 1.002}, {"s": "H", "N": 8.64e8, "v": 0.978}, {"s": "H", "N": 9.19e8, "v": 0.982}, {"s": "H", "N": 9.19e8, "v": 0.958}, {"s": "H", "N": 9.76e8, "v": 0.997}, {"s": "H", "N": 9.76e8, "v": 0.973}, {"s": "H", "N": 1.04e9, "v": 1.022}, {"s": "H", "N": 1.04e9, "v": 0.998}, {"s": "H", "N": 1.1e9, "v": 1.037}, {"s": "H", "N": 1.1e9, "v": 1.013},
      {"s": "H", "N": 4.06e6, "v": 0.945}, {"s": "H", "N": 4.31e6, "v": 0.95}, {"s": "H", "N": 4.59e6, "v": 0.955}, {"s": "H", "N": 4.87e6, "v": 0.965}, {"s": "H", "N": 5.18e6, "v": 0.985}, {"s": "H", "N": 5.51e6, "v": 0.99}, {"s": "H", "N": 5.85e6, "v": 0.975}, {"s": "H", "N": 6.22e6, "v": 0.965}, {"s": "H", "N": 6.61e6, "v": 0.96}, {"s": "H", "N": 7.03e6, "v": 0.955}, {"s": "H", "N": 7.47e6, "v": 0.96}, {"s": "H", "N": 7.93e6, "v": 0.95}, {"s": "H", "N": 8.43e6, "v": 0.945}, {"s": "H", "N": 8.96e6, "v": 0.945}, {"s": "H", "N": 9.53e6, "v": 0.95}, {"s": "H", "N": 1.01e7, "v": 0.95}, {"s": "H", "N": 1.08e7, "v": 0.953}, {"s": "H", "N": 1.14e7, "v": 0.945}, {"s": "H", "N": 1.22e7, "v": 0.94}, {"s": "H", "N": 1.29e7, "v": 0.935}, {"s": "H", "N": 1.37e7, "v": 0.927}, {"s": "H", "N": 1.46e7, "v": 0.91}, {"s": "H", "N": 1.55e7, "v": 0.9}, {"s": "H", "N": 1.65e7, "v": 0.895}, {"s": "H", "N": 1.75e7, "v": 0.898}, {"s": "H", "N": 1.86e7, "v": 0.91}, {"s": "H", "N": 1.98e7, "v": 0.92}, {"s": "H", "N": 2.1e7, "v": 0.935}, {"s": "H", "N": 2.23e7, "v": 0.955}, {"s": "H", "N": 2.38e7, "v": 0.96}, {"s": "H", "N": 2.52e7, "v": 0.945}, {"s": "H", "N": 2.68e7, "v": 0.94}, {"s": "H", "N": 2.85e7, "v": 0.935}, {"s": "H", "N": 3.03e7, "v": 0.93}, {"s": "H", "N": 3.22e7, "v": 0.92}, {"s": "H", "N": 3.42e7, "v": 0.91}, {"s": "H", "N": 3.64e7, "v": 0.9}, {"s": "H", "N": 3.87e7, "v": 0.897}, {"s": "H", "N": 4.11e7, "v": 0.895}, {"s": "H", "N": 4.37e7, "v": 0.893}, {"s": "H", "N": 4.64e7, "v": 0.893}, {"s": "H", "N": 4.93e7, "v": 0.895}, {"s": "H", "N": 5.25e7, "v": 0.892}, {"s": "H", "N": 5.57e7, "v": 0.893}, {"s": "H", "N": 5.92e7, "v": 0.897}, {"s": "H", "N": 6.3e7, "v": 0.894}, {"s": "H", "N": 6.69e7, "v": 0.898}, {"s": "H", "N": 7.11e7, "v": 0.895}, {"s": "H", "N": 7.56e7, "v": 0.893}, {"s": "H", "N": 8.03e7, "v": 0.897}, {"s": "H", "N": 8.54e7, "v": 0.893}, {"s": "H", "N": 9.07e7, "v": 0.89}, {"s": "H", "N": 9.64e7, "v": 0.887}, {"s": "H", "N": 1.03e8, "v": 0.892}, {"s": "H", "N": 1.09e8, "v": 0.895}, {"s": "H", "N": 1.16e8, "v": 0.9}, {"s": "H", "N": 1.23e8, "v": 0.897}, {"s": "H", "N": 1.31e8, "v": 0.903}, {"s": "H", "N": 1.39e8, "v": 0.905}, {"s": "H", "N": 1.48e8, "v": 0.912}, {"s": "H", "N": 1.57e8, "v": 0.945}, {"s": "H", "N": 1.67e8, "v": 0.935}, {"s": "H", "N": 1.77e8, "v": 0.94}, {"s": "H", "N": 1.88e8, "v": 0.93}, {"s": "H", "N": 2.0e8, "v": 0.94}, {"s": "H", "N": 2.13e8, "v": 0.935}, {"s": "H", "N": 2.26e8, "v": 0.93}, {"s": "H", "N": 2.4e8, "v": 0.935}, {"s": "H", "N": 2.55e8, "v": 0.94}, {"s": "H", "N": 2.72e8, "v": 0.935}, {"s": "H", "N": 2.89e8, "v": 0.94}, {"s": "H", "N": 3.07e8, "v": 0.955}, {"s": "H", "N": 3.26e8, "v": 0.963}, {"s": "H", "N": 3.47e8, "v": 0.95}, {"s": "H", "N": 3.68e8, "v": 0.93}, {"s": "H", "N": 3.92e8, "v": 0.91}, {"s": "H", "N": 4.16e8, "v": 0.9}, {"s": "H", "N": 4.42e8, "v": 0.915}, {"s": "H", "N": 4.7e8, "v": 0.93}, {"s": "H", "N": 4.99e8, "v": 0.945}, {"s": "H", "N": 5.31e8, "v": 0.953}, {"s": "H", "N": 5.64e8, "v": 0.94}, {"s": "H", "N": 6.0e8, "v": 0.93}, {"s": "H", "N": 6.37e8, "v": 0.935}, {"s": "H", "N": 6.77e8, "v": 0.927}, {"s": "H", "N": 7.2e8, "v": 0.94}, {"s": "H", "N": 7.65e8, "v": 0.96}, {"s": "H", "N": 8.13e8, "v": 0.975}, {"s": "H", "N": 8.64e8, "v": 0.99}, {"s": "H", "N": 9.19e8, "v": 0.97}, {"s": "H", "N": 9.76e8, "v": 0.985}, {"s": "H", "N": 1.04e9, "v": 1.01}, {"s": "H", "N": 1.1e9, "v": 1.025}
    ]
  },
  "layer": [
    {
      "data": {"name": "t50"},
      "mark": {"type": "rule", "color": "#8c6060", "strokeWidth": 2.5, "strokeDash": [2, 2]},
      "encoding": {
        "x": {"field": "N", "type": "quantitative", "scale": {"type": "log", "domain": [785000, 18600000000], "nice": false},
          "axis": {"orient": "top", "values": [1e6, 1e7, 1e8, 1e9, 1e10], "labels": false, "title": null, "grid": false, "domain": false, "tickSize": -8, "tickColor": "#262626", "tickWidth": 1.3}},
        "y": {"datum": 0, "type": "quantitative", "scale": {"domain": [0, 1.2], "nice": false, "zero": false}, "axis": null},
        "y2": {"datum": 1.0}
      }
    },
    {
      "data": {"name": "t97"},
      "mark": {"type": "rule", "color": "#7a7a7a", "strokeWidth": 2.5, "strokeDash": [2, 2]},
      "encoding": {
        "x": {"field": "N", "type": "quantitative",
          "axis": {"orient": "top", "values": [8e5, 9e5, 2e6, 3e6, 4e6, 5e6, 6e6, 7e6, 8e6, 9e6, 2e7, 3e7, 4e7, 5e7, 6e7, 7e7, 8e7, 9e7, 2e8, 3e8, 4e8, 5e8, 6e8, 7e8, 8e8, 9e8, 2e9, 3e9, 4e9, 5e9, 6e9, 7e9, 8e9, 9e9], "labels": false, "title": null, "grid": false, "domain": false, "tickSize": -5, "tickColor": "#262626", "tickWidth": 1}},
        "y": {"datum": 0, "type": "quantitative", "axis": null},
        "y2": {"datum": 1.0}
      }
    },
    {
      "data": {"name": "pts"},
      "mark": {"type": "point", "filled": false, "strokeWidth": 1.4, "size": 640, "opacity": 1},
      "encoding": {
        "x": {"field": "N", "type": "quantitative",
          "axis": {"orient": "bottom", "values": [1e6, 1e7, 1e8, 1e9, 1e10],
            "labelExpr": "['10⁶','10⁷','10⁸','10⁹','10¹⁰'][round(log(datum.value)/LN10)-6]",
            "title": "Cyclenumber N [-]", "titleFont": "Liberation Serif", "titleFontSize": 39, "titleFontWeight": "normal", "titleColor": "#262626", "titlePadding": 6,
            "labelFont": {"condition": {"test": "datum.value > 5e9", "value": "DejaVu Serif"}, "value": "Liberation Serif"},
            "labelFontSize": {"condition": {"test": "datum.value > 5e9", "value": 24}, "value": 27},
            "labelColor": "#262626", "labelPadding": 14, "labelFlush": false, "labelOverlap": false,
            "tickSize": -8, "tickColor": "#262626", "tickWidth": 1.3, "domain": false,
            "grid": true, "gridColor": "#d4d4d4", "gridWidth": 1.5}},
        "y": {"field": "v", "type": "quantitative",
          "axis": {"orient": "left", "values": [0, 0.2, 0.4, 0.6, 0.8, 1, 1.2], "format": "~g",
            "title": "Intensity elevation features [-]", "titleFont": "Liberation Serif", "titleFontSize": 41, "titleFontWeight": "normal", "titleColor": "#262626", "titlePadding": 10,
            "labelFont": "Liberation Serif", "labelFontSize": 27, "labelColor": "#262626", "labelPadding": 15, "labelFlush": false,
            "tickSize": -8, "tickColor": "#262626", "tickWidth": 1.3, "domain": false,
            "grid": true, "gridColor": "#d4d4d4", "gridWidth": 1.5}},
        "color": {"field": "s", "type": "nominal",
          "scale": {"domain": ["A", "A*", "I", "I*", "H", "H*"], "range": ["#0000ff", "#0000ff", "#00e800", "#00e800", "#00ffff", "#00ffff"]},
          "legend": {
            "orient": "none", "legendX": 627, "legendY": 160,
            "title": ["\u200b\u2003\u2002\u2009────────", "\u200b\u2003\u2002\u2009N₅₀ = 2.13e + 06", "\u200b\u2003\u2002\u2009A_fa = 68", "\u200b\u2003\u2002\u2009I_fa = 8604"],
            "titleOrient": "bottom", "titleAnchor": "start", "titleAlign": "left", "titleFont": "Liberation Serif", "titleFontSize": 19, "titleFontWeight": "normal", "titleColor": "#000000", "titleLineHeight": 23, "titlePadding": 4,
            "labelExpr": "datum.value == 'A' ? 'A̅ area' : datum.value == 'A*' ? 'A̅* area fit' : datum.value == 'I' ? 'I̅ sum intensity' : datum.value == 'I*' ? 'I̅* sum intensity fit' : datum.value == 'H' ? ['H̅ sum intensity', 'per area'] : ['H̅* sum intensity', 'per area fit']",
            "labelFont": "Liberation Serif", "labelFontSize": 20, "labelColor": "#000000", "labelLimit": 300, "labelOffset": 10,
            "symbolSize": 484, "symbolStrokeWidth": 1.5, "rowPadding": 1, "padding": 4,
            "fillColor": "white", "strokeColor": "#262626"
          }},
        "shape": {"field": "s", "type": "nominal",
          "scale": {"domain": ["A", "A*", "I", "I*", "H", "H*"], "range": [
            "M0.36,0A0.36,0.36,0,1,1,-0.36,0A0.36,0.36,0,1,1,0.36,0",
            "M-1.15,0H-0.3M0.3,0H1.15",
            "M0.36,0A0.36,0.36,0,1,1,-0.36,0A0.36,0.36,0,1,1,0.36,0",
            "M-1.15,0H-0.3M0.3,0H1.15",
            "M0.36,0A0.36,0.36,0,1,1,-0.36,0A0.36,0.36,0,1,1,0.36,0",
            "M-1.15,0H-0.3M0.3,0H1.15"]}}
      }
    },
    {
      "data": {"name": "fits"},
      "mark": {"type": "line", "strokeWidth": 2, "strokeDash": [8, 5]},
      "encoding": {
        "x": {"field": "N", "type": "quantitative",
          "axis": {"orient": "bottom", "values": [8e5, 9e5, 2e6, 3e6, 4e6, 5e6, 6e6, 7e6, 8e6, 9e6, 2e7, 3e7, 4e7, 5e7, 6e7, 7e7, 8e7, 9e7, 2e8, 3e8, 4e8, 5e8, 6e8, 7e8, 8e8, 9e8, 2e9, 3e9, 4e9, 5e9, 6e9, 7e9, 8e9, 9e9], "labels": false, "title": null, "domain": false, "tickSize": -5, "tickColor": "#262626", "tickWidth": 1, "grid": true, "gridColor": "#b4b4b4", "gridDash": [2, 3], "gridWidth": 1.3}},
        "y": {"field": "v", "type": "quantitative",
          "axis": {"orient": "right", "values": [0, 0.2, 0.4, 0.6, 0.8, 1, 1.2], "labels": false, "title": null, "grid": false, "domain": false, "tickSize": -8, "tickColor": "#262626", "tickWidth": 1.3}},
        "color": {"field": "s", "type": "nominal"}
      }
    },
    {
      "data": {"name": "t50"},
      "mark": {"type": "text", "text": "Target", "angle": 270, "align": "right", "baseline": "alphabetic", "font": "Liberation Serif", "fontStyle": "italic", "fontSize": 14, "color": "#8c6060", "dx": 0, "dy": 28},
      "encoding": {"x": {"field": "N", "type": "quantitative", "axis": null}, "y": {"datum": 0.984, "type": "quantitative", "axis": null}}
    },
    {
      "data": {"name": "t50"},
      "mark": {"type": "text", "text": "B", "angle": 270, "align": "right", "baseline": "alphabetic", "font": "Liberation Serif", "fontStyle": "italic", "fontSize": 20, "color": "#8c6060", "dx": -38, "dy": 25},
      "encoding": {"x": {"field": "N", "type": "quantitative", "axis": null}, "y": {"datum": 0.984, "type": "quantitative", "axis": null}}
    },
    {
      "data": {"name": "t50"},
      "mark": {"type": "text", "text": "0.50 · ", "angle": 270, "align": "right", "baseline": "alphabetic", "font": "Liberation Serif", "fontSize": 20, "color": "#8c6060", "dx": -51, "dy": 25},
      "encoding": {"x": {"field": "N", "type": "quantitative", "axis": null}, "y": {"datum": 0.984, "type": "quantitative", "axis": null}}
    },
    {
      "data": {"name": "t97"},
      "mark": {"type": "text", "text": "Target", "angle": 270, "align": "right", "baseline": "alphabetic", "font": "Liberation Serif", "fontStyle": "italic", "fontSize": 14, "color": "#6e6e6e", "dx": 0, "dy": 23},
      "encoding": {"x": {"field": "N", "type": "quantitative", "axis": null}, "y": {"datum": 0.979, "type": "quantitative", "axis": null}}
    },
    {
      "data": {"name": "t97"},
      "mark": {"type": "text", "text": "B", "angle": 270, "align": "right", "baseline": "alphabetic", "font": "Liberation Serif", "fontStyle": "italic", "fontSize": 20, "color": "#6e6e6e", "dx": -38, "dy": 20},
      "encoding": {"x": {"field": "N", "type": "quantitative", "axis": null}, "y": {"datum": 0.979, "type": "quantitative", "axis": null}}
    },
    {
      "data": {"name": "t97"},
      "mark": {"type": "text", "text": "0.97 · ", "angle": 270, "align": "right", "baseline": "alphabetic", "font": "Liberation Serif", "fontSize": 20, "color": "#6e6e6e", "dx": -51, "dy": 20},
      "encoding": {"x": {"field": "N", "type": "quantitative", "axis": null}, "y": {"datum": 0.979, "type": "quantitative", "axis": null}}
    }
  ]
}
